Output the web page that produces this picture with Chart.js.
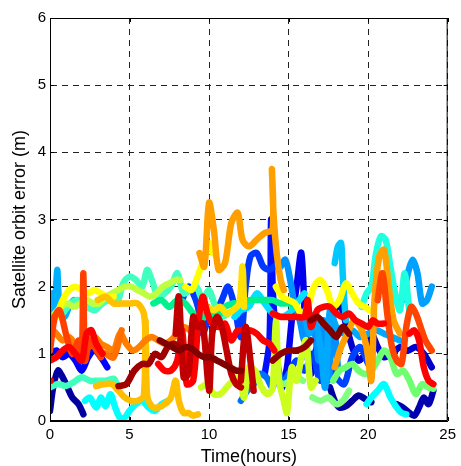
<!DOCTYPE html>
<html>
<head>
<meta charset="utf-8">
<script src="https://cdn.jsdelivr.net/npm/chart.js@4"></script>
<style>
  html, body { margin: 0; padding: 0; background: #fff; }
  #wrap { width: 461px; height: 466px; }
</style>
</head>
<body>
<div id="wrap"><canvas id="myChart" width="461" height="466"></canvas></div>
<script>
// tick labels
const xTicks = [0, 5, 10, 15, 20, 25];
const yTicks = [0, 1, 2, 3, 4, 5, 6];

// satellite tracks: time (hours) / orbit error (m)
const t01 = [0, 0.2, 0.5, 0.8, 1.1, 1.4, 1.8, 2.1];
const e01 = [0.15, 0.5, 0.75, 0.65, 0.5, 0.35, 0.25, 0.1];
const t02 = [17.6, 17.9, 18.2, 18.6, 19.0, 19.4, 19.8, 20.2];
const e02 = [0.5, 0.3, 0.2, 0.22, 0.3, 0.38, 0.33, 0.28];
const t03 = [21.8, 22.2, 22.6, 22.9, 23.2, 23.5, 23.8, 24.1];
const e03 = [0.25, 0.2, 0.12, 0.08, 0.2, 0.35, 0.25, 0.45];
const t04 = [17.3, 17.8, 18.2, 18.6, 19.0, 19.4, 19.8, 20.2, 20.6, 21.0, 21.5, 22.0, 22.5, 23.0, 23.5, 24.0];
const e04 = [1.45, 1.6, 1.75, 1.45, 1.1, 0.9, 1.0, 1.3, 1.1, 0.95, 1.0, 1.1, 1.05, 1.1, 1.0, 0.8];
const t05 = [0, 0.4, 0.8, 1.2, 1.6, 2.0, 2.4, 2.8, 3.2, 3.6];
const e05 = [1.0, 1.05, 0.95, 1.0, 0.9, 0.75, 0.95, 1.05, 0.95, 0.8];
const t06 = [14.6, 14.9, 15.2, 15.5, 15.8, 16.1, 16.4, 16.8, 17.2];
const e06 = [0.5, 0.8, 1.5, 2.0, 2.5, 1.2, 0.7, 1.1, 0.6];
const t07 = [13.5, 13.8, 13.9, 14.0, 14.2, 14.4];
const e07 = [0.7, 1.2, 3.0, 2.0, 1.2, 0.6];
const t08 = [8.3, 8.7, 9.0, 9.3, 9.6, 10.0, 10.4, 10.8, 11.2, 11.6, 12.0, 12.3, 12.6, 13.0, 13.4, 13.8, 14.1];
const e08 = [1.8, 2.0, 1.9, 1.7, 1.3, 1.55, 1.6, 1.8, 2.0, 1.7, 1.25, 2.0, 2.45, 2.5, 2.3, 2.25, 2.3];
const t09 = [15.0, 15.5, 16.0, 16.5, 17.0, 17.5, 18.0, 18.5, 19.0, 19.5, 20.0];
const e09 = [0.7, 0.9, 0.75, 1.0, 0.6, 0.9, 0.65, 0.55, 0.95, 1.1, 0.85];
const t10 = [12.0, 12.4, 12.8, 13.2, 13.6, 14.0, 14.3, 14.6, 15.0];
const e10 = [0.3, 0.45, 0.55, 0.7, 0.65, 0.5, 0.8, 0.55, 0.7];
const t11 = [14.5, 14.8, 15.1, 15.4, 15.7, 16.0, 16.3, 16.6, 16.9, 17.2, 17.5, 17.8, 18.1];
const e11 = [2.3, 2.4, 2.1, 1.7, 1.5, 1.2, 1.6, 1.4, 0.9, 1.5, 0.6, 1.5, 0.8];
const t12 = [22.2, 22.5, 22.8, 23.1, 23.4, 23.7, 24.0];
const e12 = [1.8, 2.2, 2.4, 2.2, 1.75, 1.8, 2.0];
const t13 = [0, 0.15, 0.3, 0.45, 0.6, 0.9, 1.2, 1.5, 1.8];
const e13 = [1.5, 1.9, 1.6, 2.25, 1.7, 1.55, 1.7, 1.8, 1.75];
const t14 = [16.0, 16.3, 16.6, 17.0, 17.3, 17.6, 18.0, 18.5, 19.0, 19.5, 20.0, 20.5, 21.0, 21.5, 22.0];
const e14 = [1.6, 1.3, 1.55, 1.1, 0.5, 1.65, 1.4, 1.3, 1.35, 1.25, 1.3, 1.35, 1.3, 1.25, 1.2];
const t15 = [17.9, 18.1, 18.3, 18.4, 18.5, 18.6];
const e15 = [2.35, 2.6, 2.65, 2.2, 1.8, 1.5];
const t16 = [11.6, 12.0, 12.5, 13.0, 13.5, 14.0, 14.5, 15.0, 15.5, 16.0];
const e16 = [1.55, 1.65, 1.7, 1.9, 1.75, 1.6, 1.55, 1.6, 1.75, 1.9];
const t17 = [2.2, 2.5, 2.9, 3.2, 3.5, 3.8, 4.1, 4.4, 4.7, 5.0, 5.4, 5.8, 6.2, 6.6, 7.0, 7.4];
const e17 = [0.3, 0.35, 0.2, 0.35, 0.22, 0.4, 0.2, 0.05, 0.05, 0.15, 0.25, 0.3, 0.2, 0.15, 0.25, 0.3];
const t18 = [19.9, 20.2, 20.6, 21.0, 21.4, 21.8, 22.1, 22.4];
const e18 = [0.25, 0.35, 0.45, 0.55, 0.35, 0.2, 0.12, 0.1];
const t19 = [19.6, 19.9, 20.2, 20.5, 20.8, 21.1, 21.4, 21.7, 22.0, 22.3, 22.6];
const e19 = [1.7, 1.9, 2.0, 2.5, 2.75, 2.7, 2.3, 1.9, 1.65, 2.2, 1.6];
const t20 = [0, 0.5, 1.0, 1.5, 2.0, 2.5, 3.0, 3.5, 4.0, 4.2];
const e20 = [0.5, 0.55, 0.52, 0.58, 0.65, 0.6, 0.6, 0.6, 0.63, 0.55];
const t21 = [0.8, 1.3, 1.8, 2.3, 2.8, 3.3, 3.8, 4.2, 4.6, 5.0, 5.4, 5.8, 6.1, 6.4, 6.8, 7.2, 7.6, 8.0, 8.4, 8.8, 9.2, 9.6, 10.0, 10.4, 10.8, 11.2];
const e21 = [1.6, 1.75, 1.8, 1.7, 1.65, 1.75, 1.8, 1.75, 2.05, 2.15, 2.1, 2.0, 2.25, 2.1, 1.85, 1.9, 2.0, 2.2, 1.9, 1.95, 2.0, 1.8, 1.95, 1.7, 1.55, 1.6];
const t22 = [6.5, 7.0, 7.5, 8.0, 8.5, 9.0, 9.5, 10.0, 10.5, 11.0, 11.5, 12.0, 12.5, 13.0, 13.5, 14.0, 14.5, 15.0, 15.4];
const e22 = [1.75, 1.8, 1.7, 1.8, 1.75, 1.6, 1.5, 1.65, 1.55, 1.7, 1.75, 1.75, 1.8, 1.8, 1.8, 1.8, 1.75, 1.75, 1.7];
const t23 = [16.5, 17.0, 17.5, 18.0, 18.4, 18.8];
const e23 = [0.35, 0.3, 0.35, 0.25, 0.3, 0.45];
const t24 = [14.3, 14.7, 15.1, 15.5, 15.9];
const e24 = [0.6, 0.55, 0.6, 0.65, 0.6];
const t25 = [17.8, 18.2, 18.6, 19.0, 19.4, 19.8, 20.2, 20.6, 21.0, 21.4, 21.8, 22.2, 22.6, 23.0, 23.4, 23.8, 24.1];
const e25 = [0.6, 0.75, 0.8, 0.85, 0.75, 0.7, 0.75, 0.9, 1.05, 0.95, 0.7, 0.75, 0.6, 0.4, 0.55, 0.5, 0.48];
const t26 = [0.3, 0.7, 1.1, 1.5, 1.9, 2.3, 2.7, 3.1, 3.5, 3.9, 4.3, 4.7, 5.1, 5.5, 5.9, 6.3, 6.7, 7.1, 7.5, 7.9, 8.2];
const e26 = [1.6, 1.7, 1.75, 1.7, 1.75, 1.8, 1.75, 1.75, 1.85, 1.9, 1.95, 2.0, 2.0, 1.95, 1.9, 1.85, 1.9, 2.0, 2.05, 2.1, 2.1];
const t27 = [9.5, 9.9, 10.3, 10.7, 11.1, 11.5, 11.9, 12.2, 12.5, 12.9, 13.3, 13.7, 14.0, 14.2, 14.4, 14.7, 14.9, 15.2, 15.5, 15.8, 16.1, 16.4, 16.7];
const e27 = [0.5, 0.55, 0.4, 0.4, 0.5, 0.6, 0.65, 0.35, 0.8, 0.75, 0.5, 0.4, 0.5, 1.5, 0.6, 0.3, 0.12, 0.8, 0.6, 0.95, 1.2, 0.5, 0.6];
const t28 = [0.4, 0.8, 1.2, 1.6, 2.0, 2.4, 2.8, 3.2, 3.6, 4.0];
const e28 = [1.55, 1.8, 1.95, 2.0, 1.95, 1.9, 1.95, 1.9, 1.85, 1.85];
const t29 = [8.5, 8.9, 9.2, 9.5, 9.7, 10.0, 10.2];
const e29 = [2.0, 1.95, 2.1, 2.3, 2.4, 2.65, 2.5];
const t30 = [9.9, 10.3, 10.7, 11.1, 11.5, 11.9, 12.1, 12.2];
const e30 = [1.7, 1.65, 1.7, 1.6, 1.65, 1.75, 2.3, 1.7];
const t31 = [14.2, 14.6, 15.0, 15.4, 15.8, 16.2, 16.6, 17.0, 17.4, 17.8, 18.2, 18.6, 19.0, 19.4, 19.8, 20.1];
const e31 = [2.0, 1.85, 1.8, 1.75, 1.6, 1.7, 2.0, 2.1, 1.95, 1.7, 1.8, 2.05, 1.9, 1.75, 1.7, 1.65];
const t32 = [2.9, 3.4, 3.9, 4.3, 4.7, 5.1, 5.5, 5.9, 6.0, 6.1, 6.4, 6.8, 7.2, 7.6, 7.9, 8.1, 8.4, 8.7, 9.0, 9.3];
const e32 = [0.52, 0.55, 0.55, 0.45, 0.35, 0.3, 0.3, 0.38, 1.5, 0.4, 0.22, 0.2, 0.25, 0.35, 0.6, 0.3, 0.12, 0.12, 0.08, 0.1];
const t33 = [3.0, 3.5, 4.0, 4.5, 5.0, 5.5, 5.9, 6.05];
const e33 = [1.8, 1.85, 1.75, 1.75, 1.75, 1.75, 1.6, 1.0];
const t34 = [9.4, 9.7, 10.0, 10.3, 10.6, 11.0, 11.4, 11.8, 12.1, 12.5, 13.0, 13.5, 14.0, 13.95, 14.05, 14.25, 14.5, 14.7];
const e34 = [2.5, 2.3, 3.25, 2.85, 2.25, 2.35, 2.95, 3.1, 2.7, 2.6, 2.7, 2.8, 2.85, 3.75, 3.1, 2.5, 2.1, 1.95];
const t35 = [17.9, 18.3, 18.7, 19.1, 19.5, 19.9, 20.2, 20.4, 20.7, 21.0, 21.3, 21.6, 22.0];
const e35 = [0.8, 1.1, 1.3, 1.5, 1.4, 1.1, 0.6, 1.8, 2.45, 2.55, 2.0, 1.5, 1.3];
const t36 = [0, 0.4, 0.8, 1.2, 1.6, 2.0, 2.4, 2.8, 3.2, 3.6, 4.0, 4.4, 4.8, 5.2, 5.6, 6.0, 6.4, 6.8, 7.2, 7.6, 8.0, 8.4, 8.8, 9.2];
const e36 = [1.4, 1.3, 1.2, 1.25, 1.15, 1.2, 1.1, 1.25, 1.15, 1.1, 1.05, 1.3, 1.15, 1.05, 1.1, 1.2, 1.25, 1.2, 1.15, 1.2, 1.3, 1.4, 1.35, 1.3];
const t37 = [1.5, 2.0, 2.5, 3.0, 3.5, 4.0, 4.5];
const e37 = [1.1, 1.0, 1.25, 1.05, 1.0, 0.95, 1.35];
const t38 = [0, 0.3, 0.6, 1.0, 1.4, 1.8, 2.0, 2.1, 2.2, 2.5, 2.8, 3.2];
const e38 = [1.05, 1.55, 1.65, 1.3, 1.0, 1.2, 1.0, 2.2, 0.9, 1.2, 1.1, 0.95];
const t39 = [20.6, 20.9, 21.2, 21.5, 21.8, 22.1, 22.4, 22.7, 23.0, 23.3, 23.6, 24.0];
const e39 = [1.8, 2.2, 1.6, 1.1, 0.9, 0.85, 1.4, 1.7, 1.6, 1.4, 1.2, 1.05];
const t40 = [0, 0.4, 0.8, 1.2, 1.6, 2.0, 2.3, 2.6, 2.9, 3.3];
const e40 = [0.9, 0.95, 1.05, 1.1, 1.0, 0.9, 1.3, 1.35, 1.15, 1.0];
const t41 = [0, 0.05];
const e41 = [0.6, 0.6];
const t42 = [6.8, 7.2, 7.6, 8.0, 8.3, 8.6, 9.0, 9.3, 9.6, 9.9, 10.2, 10.6, 11.0, 11.4, 11.8, 12.2, 12.6, 13.0, 13.4, 13.8, 14.1];
const e42 = [0.85, 0.75, 0.75, 0.9, 1.35, 0.55, 0.6, 1.4, 1.85, 1.6, 1.45, 1.4, 1.45, 1.2, 1.35, 1.35, 1.35, 1.3, 1.2, 1.15, 1.05];
const t43 = [14.0, 14.5, 15.0, 15.5, 16.0, 16.2, 16.4, 16.8, 17.2, 17.6, 18.0, 18.4, 18.8, 19.2, 19.6, 20.0, 20.3, 20.6, 21.0];
const e43 = [1.6, 1.55, 1.55, 1.55, 1.55, 1.8, 1.4, 1.65, 1.7, 1.7, 1.6, 1.55, 1.6, 1.5, 1.45, 1.4, 1.5, 1.45, 1.45];
const t44 = [22.6, 22.9, 23.2, 23.5, 23.8, 24.1];
const e44 = [1.3, 1.35, 1.2, 0.8, 0.6, 0.55];
const t45 = [7.9, 8.1, 8.4, 8.7, 9.0, 9.3, 9.6, 10.0, 10.2, 10.5, 10.8, 11.1, 11.4, 11.7, 12.0];
const e45 = [1.3, 1.85, 0.65, 0.7, 1.55, 1.4, 1.45, 0.45, 1.3, 1.55, 1.4, 1.05, 0.7, 0.55, 0.5];
const t46 = [12.0, 12.3, 12.6, 12.8];
const e46 = [0.6, 1.4, 0.9, 0.45];
const t47 = [4.3, 4.8, 5.3, 5.8, 6.2, 6.6, 7.0, 7.4, 7.8, 8.1];
const e47 = [0.52, 0.55, 0.75, 0.85, 0.85, 1.0, 0.95, 1.1, 1.15, 1.1];
const t48 = [6.9, 7.3, 7.7, 8.1, 8.5, 8.9, 9.3, 9.7, 10.1, 10.5, 10.9, 11.3, 11.7, 12.0];
const e48 = [1.2, 1.15, 1.1, 1.05, 1.1, 1.08, 1.0, 0.95, 0.95, 0.9, 0.85, 0.8, 0.75, 0.75];
const t49 = [14.0, 14.5, 15.0, 15.5, 16.0, 16.4];
const e49 = [0.9, 1.0, 1.05, 1.05, 1.1, 1.2];
const t50 = [16.4, 16.8, 17.2, 17.6, 18.0, 18.4, 18.8];
const e50 = [1.5, 1.55, 1.45, 1.35, 1.25, 1.4, 1.3];

// draw order blue -> red (last on top), with jet colours
const tracks = [
    [t01, e01, "#0000a0"], [t02, e02, "#0000a0"], [t03, e03, "#0000b0"], [t04, e04, "#0000cd"],
    [t05, e05, "#0000ff"], [t06, e06, "#0000ee"], [t07, e07, "#0010ff"], [t08, e08, "#0038ff"],
    [t09, e09, "#0040ff"], [t10, e10, "#0070ff"], [t11, e11, "#0090ff"], [t12, e12, "#00a0ff"],
    [t13, e13, "#00b0ff"], [t14, e14, "#00a8ff"], [t15, e15, "#00c8ff"], [t16, e16, "#00e0ff"],
    [t17, e17, "#00ffff"], [t18, e18, "#00ffff"], [t19, e19, "#20ffe0"], [t20, e20, "#40ffbf"],
    [t21, e21, "#40ffbf"], [t22, e22, "#00f090"], [t23, e23, "#80ff80"], [t24, e24, "#80ff80"],
    [t25, e25, "#70ff70"], [t26, e26, "#bfff40"], [t27, e27, "#ccff20"], [t28, e28, "#ffff00"],
    [t29, e29, "#ffff00"], [t30, e30, "#ffe000"], [t31, e31, "#ffff00"], [t32, e32, "#ffbf00"],
    [t33, e33, "#ffc000"], [t34, e34, "#ffa000"], [t35, e35, "#ffa000"], [t36, e36, "#ff8000"],
    [t37, e37, "#ff7000"], [t38, e38, "#ff4000"], [t39, e39, "#ff4500"], [t40, e40, "#ff0000"],
    [t41, e41, "#ff0000"], [t42, e42, "#ff0000"], [t43, e43, "#ff0000"], [t44, e44, "#ff0000"],
    [t45, e45, "#c00000"], [t46, e46, "#c00000"], [t47, e47, "#a00000"], [t48, e48, "#800000"],
    [t49, e49, "#900000"], [t50, e50, "#800000"]
];

const datasets = tracks.map(([t, e, colour], i) => ({
    data: t.map((x, k) => ({ x: x, y: e[k] })),
    borderColor: colour,
    backgroundColor: colour,
    borderWidth: 6.5,
    borderCapStyle: "round",
    borderJoinStyle: "round",
    pointRadius: 0,
    tension: 0.3,
    fill: false,
    order: tracks.length - i
}));

// box round the axes and MATLAB-style inward ticks
const boxPlugin = {
    id: "box",
    afterDraw(chart) {
        const { ctx, chartArea: a, scales } = chart;
        ctx.save();
        ctx.strokeStyle = "#000";
        ctx.lineWidth = 1;
        ctx.setLineDash([]);
        ctx.strokeRect(a.left + 0.5, a.top + 0.5, a.right - a.left - 1, a.bottom - a.top - 1);
        ctx.beginPath();
        xTicks.forEach(v => {
            const px = Math.round(scales.x.getPixelForValue(v)) + 0.5;
            ctx.moveTo(px, a.bottom); ctx.lineTo(px, a.bottom - 4);
            ctx.moveTo(px, a.top); ctx.lineTo(px, a.top + 4);
        });
        yTicks.forEach(v => {
            const py = Math.round(scales.y.getPixelForValue(v)) + 0.5;
            ctx.moveTo(a.left, py); ctx.lineTo(a.left + 4, py);
            ctx.moveTo(a.right, py); ctx.lineTo(a.right - 4, py);
        });
        ctx.stroke();
        ctx.restore();
    }
};

const font = "'Liberation Sans', Arial, sans-serif";

new Chart(document.getElementById("myChart"), {
    type: "line",
    data: { datasets: datasets },
    plugins: [boxPlugin],
    options: {
        responsive: false,
        animation: false,
        layout: { padding: { top: 18, right: 7, left: 0, bottom: 0 } },
        plugins: { legend: { display: false }, tooltip: { enabled: false } },
        scales: {
            x: {
                type: "linear",
                min: 0, max: 25,
                afterBuildTicks: s => { s.ticks = xTicks.map(v => ({ value: v })); },
                afterFit: s => { s.height = 45; },
                ticks: { color: "#000", font: { family: font, size: 15 }, padding: 5, maxRotation: 0 },
                grid: { color: "#222", lineWidth: 1, drawTicks: false },
                border: { display: true, color: "#000", dash: [6, 5] },
                title: { display: true, text: "Time(hours)", color: "#000",
                         font: { family: font, size: 18, lineHeight: 1 }, padding: { top: 0, bottom: 0 } }
            },
            y: {
                min: 0, max: 6,
                afterBuildTicks: s => { s.ticks = yTicks.map(v => ({ value: v })); },
                afterFit: s => { s.width = 50; },
                ticks: { color: "#000", font: { family: font, size: 15 }, padding: 4 },
                grid: { color: "#222", lineWidth: 1, drawTicks: false },
                border: { display: true, color: "#000", dash: [6, 5] },
                title: { display: true, text: "Satellite orbit error (m)", color: "#000",
                         font: { family: font, size: 18, lineHeight: 1 }, padding: { top: 11, bottom: 0 } }
            }
        }
    }
});
</script>
</body>
</html>
